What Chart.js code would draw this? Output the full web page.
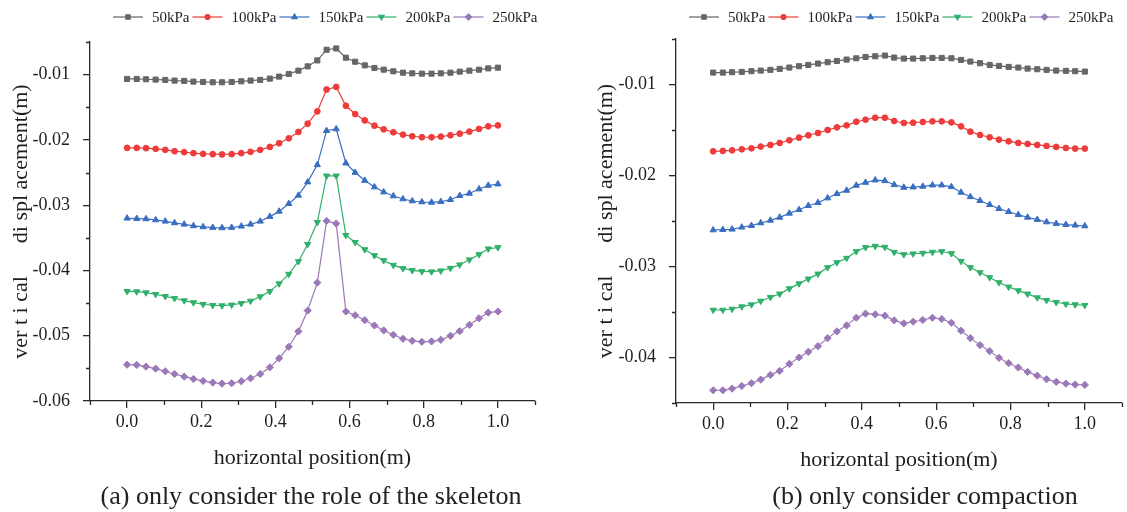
<!DOCTYPE html>
<html>
<head>
<meta charset="utf-8">
<script src="https://cdn.jsdelivr.net/npm/chart.js@4.4.0/dist/chart.umd.min.js"></script>
<style>
  body { margin: 0; background: #fff; width: 1127px; height: 512px; position: relative; overflow: hidden; font-family: "Liberation Serif", serif; }
  .box { position: absolute; top: 0; height: 512px; }
  #boxA { left: 0; width: 560px; }
  #boxB { left: 560px; width: 567px; }
  .cap { position: absolute; top: 481px; font-size: 26px; line-height: 30px; color: #222; white-space: nowrap; transform: translateX(-50%); }
</style>
</head>
<body>
<div class="box" id="boxA"><canvas id="chart-a"></canvas></div>
<div class="box" id="boxB"><canvas id="chart-b"></canvas></div>
<div class="cap" style="left:311px">(a) only consider the role of the skeleton</div>
<div class="cap" style="left:925px">(b) only consider compaction</div>
<script>
// x positions of the 40 measuring points (m)
const xPos = [0, 0.026, 0.051, 0.077, 0.103, 0.128, 0.154, 0.179, 0.205, 0.231,
  0.256, 0.282, 0.308, 0.333, 0.359, 0.385, 0.410, 0.436, 0.462, 0.487,
  0.513, 0.538, 0.564, 0.590, 0.615, 0.641, 0.667, 0.692, 0.718, 0.744,
  0.769, 0.795, 0.821, 0.846, 0.872, 0.897, 0.923, 0.949, 0.974, 1.000];

const loads = ["50kPa", "100kPa", "150kPa", "200kPa", "250kPa"];

// (a) only skeleton
const a50 = [-0.01066,-0.01066,-0.01071,-0.01076,-0.01081,-0.01091,-0.01096,-0.01107,-0.01112,-0.01117,
  -0.01117,-0.01112,-0.01102,-0.01091,-0.01081,-0.01061,-0.01030,-0.00990,-0.00939,-0.00873,
  -0.00782,-0.00619,-0.00599,-0.00741,-0.00802,-0.00858,-0.00898,-0.00924,-0.00949,-0.00970,
  -0.00980,-0.00985,-0.00985,-0.00980,-0.00970,-0.00954,-0.00939,-0.00924,-0.00904,-0.00893];
const a100 = [-0.02122,-0.02122,-0.02127,-0.02137,-0.02152,-0.02173,-0.02188,-0.02203,-0.02213,-0.02218,
  -0.02223,-0.02218,-0.02203,-0.02183,-0.02152,-0.02107,-0.02051,-0.01975,-0.01878,-0.01751,
  -0.01563,-0.01228,-0.01188,-0.01477,-0.01604,-0.01701,-0.01782,-0.01838,-0.01883,-0.01919,
  -0.01944,-0.01959,-0.01959,-0.01949,-0.01929,-0.01904,-0.01873,-0.01832,-0.01792,-0.01777];
const a150 = [-0.03201,-0.03206,-0.03211,-0.03226,-0.03247,-0.03272,-0.03293,-0.03317,-0.03333,-0.03343,
  -0.03348,-0.03343,-0.03323,-0.03293,-0.03247,-0.03175,-0.03095,-0.02977,-0.02850,-0.02646,
  -0.02382,-0.01859,-0.01833,-0.02356,-0.02500,-0.02622,-0.02722,-0.02799,-0.02860,-0.02905,
  -0.02936,-0.02951,-0.02957,-0.02947,-0.02916,-0.02855,-0.02820,-0.02753,-0.02698,-0.02677];
const a200 = [-0.04320,-0.04324,-0.04340,-0.04365,-0.04396,-0.04426,-0.04462,-0.04492,-0.04518,-0.04533,
  -0.04538,-0.04528,-0.04503,-0.04468,-0.04401,-0.04320,-0.04202,-0.04056,-0.03862,-0.03598,
  -0.03262,-0.02550,-0.02550,-0.03461,-0.03568,-0.03679,-0.03770,-0.03847,-0.03918,-0.03969,
  -0.03999,-0.04015,-0.04019,-0.04004,-0.03964,-0.03912,-0.03836,-0.03755,-0.03668,-0.03648];
const a250 = [-0.05444,-0.05448,-0.05474,-0.05505,-0.05545,-0.05586,-0.05627,-0.05662,-0.05693,-0.05718,
  -0.05734,-0.05728,-0.05697,-0.05652,-0.05586,-0.05484,-0.05346,-0.05169,-0.04934,-0.04614,
  -0.04187,-0.03241,-0.03282,-0.04629,-0.04686,-0.04762,-0.04843,-0.04919,-0.04986,-0.05047,
  -0.05078,-0.05093,-0.05087,-0.05063,-0.05001,-0.04930,-0.04834,-0.04732,-0.04645,-0.04629];

// (b) only compaction
const b50 = [-0.00869,-0.00869,-0.00865,-0.00861,-0.00854,-0.00847,-0.00839,-0.00828,-0.00814,-0.00799,
  -0.00785,-0.00770,-0.00755,-0.00741,-0.00726,-0.00712,-0.00697,-0.00690,-0.00682,-0.00704,
  -0.00715,-0.00715,-0.00712,-0.00708,-0.00708,-0.00712,-0.00730,-0.00748,-0.00766,-0.00785,
  -0.00796,-0.00807,-0.00814,-0.00825,-0.00832,-0.00839,-0.00847,-0.00850,-0.00854,-0.00858];
const b100 = [-0.01734,-0.01730,-0.01723,-0.01712,-0.01701,-0.01682,-0.01664,-0.01642,-0.01613,-0.01584,
  -0.01558,-0.01533,-0.01500,-0.01471,-0.01449,-0.01409,-0.01387,-0.01365,-0.01365,-0.01401,
  -0.01423,-0.01420,-0.01412,-0.01405,-0.01405,-0.01416,-0.01460,-0.01518,-0.01555,-0.01580,
  -0.01606,-0.01624,-0.01642,-0.01653,-0.01664,-0.01675,-0.01686,-0.01697,-0.01704,-0.01704];
const b150 = [-0.02599,-0.02595,-0.02591,-0.02569,-0.02551,-0.02522,-0.02493,-0.02460,-0.02416,-0.02376,
  -0.02332,-0.02299,-0.02248,-0.02201,-0.02164,-0.02109,-0.02077,-0.02051,-0.02058,-0.02102,
  -0.02131,-0.02128,-0.02120,-0.02106,-0.02106,-0.02124,-0.02186,-0.02234,-0.02277,-0.02321,
  -0.02365,-0.02398,-0.02431,-0.02460,-0.02485,-0.02511,-0.02529,-0.02540,-0.02547,-0.02555];
const b200 = [-0.03478,-0.03478,-0.03467,-0.03441,-0.03419,-0.03379,-0.03338,-0.03301,-0.03243,-0.03188,
  -0.03136,-0.03081,-0.03011,-0.02956,-0.02908,-0.02835,-0.02790,-0.02776,-0.02787,-0.02842,
  -0.02868,-0.02860,-0.02853,-0.02842,-0.02835,-0.02857,-0.02941,-0.03011,-0.03066,-0.03121,
  -0.03176,-0.03224,-0.03265,-0.03301,-0.03342,-0.03371,-0.03393,-0.03412,-0.03419,-0.03426];
const b250 = [-0.04360,-0.04360,-0.04342,-0.04313,-0.04283,-0.04243,-0.04191,-0.04147,-0.04070,-0.04000,
  -0.03938,-0.03875,-0.03787,-0.03713,-0.03647,-0.03563,-0.03518,-0.03526,-0.03540,-0.03592,
  -0.03625,-0.03607,-0.03588,-0.03563,-0.03577,-0.03618,-0.03706,-0.03787,-0.03864,-0.03930,
  -0.04004,-0.04063,-0.04110,-0.04158,-0.04199,-0.04239,-0.04268,-0.04287,-0.04298,-0.04301];

// tick labels
const xTicks = [0.0, 0.2, 0.4, 0.6, 0.8, 1.0];
const xMinor = [-0.1, 0.1, 0.3, 0.5, 0.7, 0.9, 1.1];
const yTicksA = [-0.06, -0.05, -0.04, -0.03, -0.02, -0.01];
const yMinorA = [-0.055, -0.045, -0.035, -0.025, -0.015, -0.005];
const yTicksB = [-0.04, -0.03, -0.02, -0.01];
const yMinorB = [-0.045, -0.035, -0.025, -0.015, -0.005];

const xTitle = "horizontal position(m)";
const yTitle = "ver t i cal      di spl acement(m)";

const FONT = '"Liberation Serif", "Times New Roman", serif';
const AXIS = "#2a2a2a";
const TEXT = "#1e1e1e";

const styles = [
  { color: "#666666", pointStyle: "rect", radius: 3.6, rotation: 0 },
  { color: "#ee3b3b", pointStyle: "circle", radius: 2.9, rotation: 0 },
  { color: "#3a6ec0", pointStyle: "triangle", radius: 3.6, rotation: 0 },
  { color: "#2fb06b", pointStyle: "triangle", radius: 3.6, rotation: 180 },
  { color: "#9b78b8", pointStyle: "rectRot", radius: 3.6, rotation: 0 },
];

// legend drawn as line + marker + label, like the original figure
const lineLegend = {
  id: "lineLegend",
  afterDraw(chart, args, opts) {
    const ctx = chart.ctx;
    let x = opts.x;
    const y = opts.y;
    ctx.save();
    ctx.font = "15px " + FONT;
    ctx.textBaseline = "middle";
    chart.data.datasets.forEach((ds) => {
      ctx.strokeStyle = ds.borderColor;
      ctx.lineWidth = 1.2;
      ctx.beginPath();
      ctx.moveTo(x, y);
      ctx.lineTo(x + 30, y);
      ctx.stroke();
      ctx.fillStyle = ds.borderColor;
      Chart.helpers.drawPoint(ctx, {
        pointStyle: ds.pointStyle,
        rotation: ds.pointRotation,
        radius: ds.pointRadius * 0.85,
        borderWidth: 1,
      }, x + 15, y);
      ctx.fillStyle = TEXT;
      ctx.fillText(ds.label, x + 39, y + 1);
      x += 39 + ctx.measureText(ds.label).width + 3;
    });
    ctx.restore();
  },
};

// short minor tick marks
const minorTicks = {
  id: "minorTicks",
  afterDraw(chart, args, opts) {
    const ctx = chart.ctx;
    const area = chart.chartArea;
    const sx = chart.scales.x, sy = chart.scales.y;
    ctx.save();
    ctx.strokeStyle = AXIS;
    ctx.lineWidth = 1.3;
    ctx.beginPath();
    opts.xs.forEach((v) => {
      const px = Math.round(sx.getPixelForValue(v)) + 0.5;
      ctx.moveTo(px, area.bottom);
      ctx.lineTo(px, area.bottom + 4);
    });
    opts.ys.forEach((v) => {
      const py = Math.round(sy.getPixelForValue(v)) + 0.5;
      ctx.moveTo(area.left - 4, py);
      ctx.lineTo(area.left, py);
    });
    ctx.stroke();
    ctx.restore();
  },
};

function makeDatasets(series) {
  return series.map((vals, i) => ({
    label: loads[i],
    data: xPos.map((x, j) => ({ x: x, y: vals[j] })),
    borderColor: styles[i].color,
    backgroundColor: styles[i].color,
    pointBackgroundColor: styles[i].color,
    pointBorderColor: styles[i].color,
    pointStyle: styles[i].pointStyle,
    pointRotation: styles[i].rotation,
    pointRadius: styles[i].radius,
    pointBorderWidth: 1,
    borderWidth: 1.2,
    tension: 0,
  }));
}

function makeChart(id, series, cfg) {
  const ctx = document.getElementById(id).getContext("2d");
  return new Chart(ctx, {
    type: "line",
    data: { datasets: makeDatasets(series) },
    options: {
      responsive: true,
      maintainAspectRatio: false,
      animation: false,
      events: [],
      layout: { padding: cfg.padding },
      plugins: {
        legend: { display: false },
        tooltip: { enabled: false },
        lineLegend: { x: cfg.legendX, y: 17 },
        minorTicks: { xs: xMinor, ys: cfg.yMinor },
      },
      scales: {
        x: {
          type: "linear",
          min: -0.1,
          max: 1.1,
          afterBuildTicks: (s) => { s.ticks = xTicks.map((v) => ({ value: v })); },
          afterFit: (s) => { s.height = 74; },
          ticks: {
            callback: (v) => v.toFixed(1),
            color: TEXT,
            font: { family: FONT, size: 18 },
            padding: 3,
            maxRotation: 0,
          },
          grid: { drawOnChartArea: false, drawTicks: true, tickLength: 7, color: AXIS, lineWidth: 1.3 },
          border: { display: true, color: AXIS, width: 1.3 },
          title: { display: true, text: xTitle, color: TEXT, font: { family: FONT, size: 22 }, padding: { top: 0, bottom: 4 } },
        },
        y: {
          type: "linear",
          min: cfg.yMin,
          max: -0.005,
          afterBuildTicks: (s) => { s.ticks = cfg.yTicks.map((v) => ({ value: v })); },
          afterFit: (s) => { s.width = cfg.yWidth; },
          ticks: {
            callback: (v) => v.toFixed(2),
            color: TEXT,
            font: { family: FONT, size: 18 },
            padding: 13,
          },
          grid: { drawOnChartArea: false, drawTicks: true, tickLength: 7, color: AXIS, lineWidth: 1.3 },
          border: { display: true, color: AXIS, width: 1.3 },
          title: { display: true, text: yTitle, color: TEXT, font: { family: FONT, size: 22 }, padding: { top: cfg.yTitlePad, bottom: 0 } },
        },
      },
    },
    plugins: [lineLegend, minorTicks],
  });
}

makeChart("chart-a", [a50, a100, a150, a200, a250], {
  padding: { left: 0, right: 25, top: 42, bottom: 37 },
  legendX: 113,
  yMin: -0.06,
  yTicks: yTicksA,
  yMinor: yMinorA,
  yWidth: 90,
  yTitlePad: 8,
});

makeChart("chart-b", [b50, b100, b150, b200, b250], {
  padding: { left: 0, right: 0, top: 39, bottom: 35 },
  legendX: 129,
  yMin: -0.045,
  yTicks: yTicksB,
  yMinor: yMinorB,
  yWidth: 116,
  yTitlePad: 33,
});
</script>
</body>
</html>
